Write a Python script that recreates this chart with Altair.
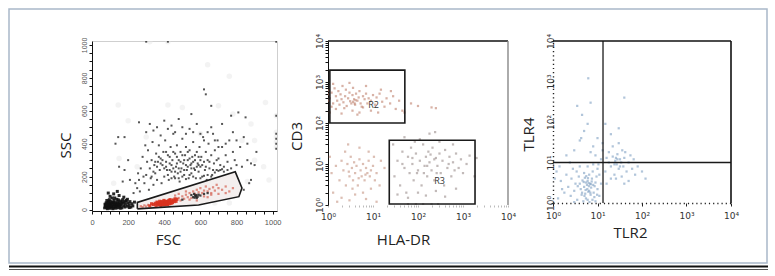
import altair as alt
import pandas as pd

# ---------------- Panel 1 : FSC / SSC (linear 0-1024) ----------------
P1_LOW_BLACK = [
    (70, 10), (75, 25), (78, 40), (80, 15), (82, 55), (85, 5), (88, 30), (90, 45), (92, 20), (95, 10),
    (96, 60), (98, 35), (100, 25), (102, 8), (105, 48), (108, 15), (110, 30), (112, 70), (115, 20), (118, 40),
    (120, 10), (122, 55), (125, 28), (128, 18), (130, 42), (133, 8), (135, 33), (138, 62), (140, 22), (143, 48),
    (145, 12), (148, 30), (150, 85), (152, 40), (155, 18), (158, 52), (160, 28), (165, 10), (168, 38), (170, 60),
    (175, 22), (178, 45), (182, 15), (185, 32), (190, 55), (195, 20), (200, 40), (205, 28), (210, 48), (215, 15),
    (220, 35), (72, 32), (86, 12), (94, 50), (104, 38), (116, 5), (126, 70), (136, 25), (146, 58), (156, 8),
    (166, 45), (176, 75), (186, 50), (196, 62), (206, 12), (226, 22), (235, 45), (120, 95), (100, 80), (140, 110),
    (90, 100), (74, 18), (84, 38), (93, 28), (106, 22), (113, 44), (124, 36), (132, 16), (142, 35), (154, 26),
]
P1_CLOUD_BLACK = [
    (250, 130), (260, 180), (270, 250), (280, 320), (290, 160), (300, 210), (305, 290), (310, 360), (315, 120), (320, 250),
    (325, 190), (330, 300), (335, 410), (340, 150), (345, 270), (350, 220), (355, 340), (360, 180), (365, 290), (370, 390),
    (375, 240), (380, 310), (385, 160), (390, 270), (395, 350), (400, 200), (405, 420), (410, 290), (415, 240), (420, 330),
    (425, 180), (430, 280), (435, 380), (440, 230), (445, 300), (450, 460), (455, 200), (460, 340), (465, 260), (470, 390),
    (475, 220), (480, 300), (485, 170), (490, 350), (495, 250), (500, 430), (505, 280), (510, 210), (515, 330), (520, 380),
    (525, 240), (530, 300), (535, 190), (540, 360), (545, 270), (550, 220), (555, 320), (560, 410), (565, 250), (570, 300),
    (575, 190), (580, 350), (585, 280), (590, 230), (595, 380), (600, 260), (605, 320), (610, 200), (615, 440), (620, 290),
    (625, 240), (630, 350), (635, 180), (640, 300), (645, 400), (650, 250), (660, 330), (665, 210), (670, 460), (675, 280),
    (680, 360), (690, 240), (695, 420), (700, 310), (710, 270), (720, 380), (730, 230), (740, 330), (750, 290), (760, 420),
    (770, 250), (780, 350), (790, 300), (800, 270), (820, 380), (840, 440), (860, 300), (880, 280), (900, 270), (910, 350),
    (230, 100), (240, 160), (255, 220), (265, 110), (285, 200), (295, 390), (300, 470), (320, 520), (340, 480), (360, 500),
    (380, 450), (400, 540), (420, 490), (440, 510), (460, 470), (480, 550), (500, 500), (520, 460), (540, 490), (560, 470),
    (580, 520), (600, 460), (620, 420), (640, 470), (660, 500), (680, 420), (700, 380), (720, 520), (740, 400), (780, 470),
    (800, 420), (180, 240), (200, 300), (210, 180), (170, 170), (150, 260), (130, 400), (145, 440), (180, 440), (260, 530),
    (550, 580), (620, 730), (630, 700), (660, 630), (770, 570), (810, 590), (850, 560), (860, 400), (880, 180), (870, 160),
    (840, 120), (830, 260), (410, 260), (430, 320), (450, 250), (470, 280), (490, 230), (510, 300), (530, 260), (550, 280),
    (570, 240), (590, 320), (420, 210), (460, 230), (500, 330), (540, 310), (580, 260), (440, 270), (480, 250), (520, 270),
    (560, 290), (600, 300), (400, 250), (380, 280), (360, 260), (340, 230), (330, 200), (350, 290), (370, 320), (390, 300),
    (410, 350), (430, 240), (450, 350), (470, 320), (490, 290), (510, 240), (530, 350), (550, 250), (570, 330), (590, 270),
    (610, 270), (630, 260), (650, 290), (670, 240), (690, 300), (710, 240), (730, 260), (640, 210), (660, 200), (600, 190),
    (620, 205), (680, 225), (700, 235), (720, 245), (750, 240), (560, 200), (500, 200), (480, 190), (520, 185), (540, 210),
    (460, 190), (440, 190), (300, 1020), (420, 1020), (1020, 1020), (1020, 460), (1020, 430), (1020, 400), (1020, 370),
    (1020, 570),
]
P1_GATE_BLACK = [
    (560, 75), (570, 85), (575, 80), (580, 70), (590, 90), (565, 95), (585, 78), (600, 85), (550, 88), (620, 95),
    (640, 100), (500, 60), (578, 88), (568, 72),
]
P1_RED_CORE = [
    (340, 30), (350, 38), (355, 25), (360, 45), (365, 32), (370, 40), (372, 28), (375, 50), (378, 35), (380, 42),
    (382, 22), (385, 38), (388, 48), (390, 30), (392, 40), (395, 35), (398, 55), (400, 42), (402, 28), (405, 38),
    (408, 50), (410, 32), (412, 45), (415, 40), (418, 30), (420, 48), (422, 36), (425, 55), (428, 42), (430, 35),
    (432, 60), (435, 45), (438, 38), (440, 52), (445, 42), (450, 58), (455, 48), (460, 65), (465, 50), (470, 62),
    (362, 38), (386, 44), (396, 30), (406, 46), (416, 34), (426, 48), (330, 35), (320, 22),
]
P1_RED_SPREAD = [
    (310, 28), (300, 18), (290, 25), (280, 15), (270, 20), (480, 70), (490, 55), (500, 80),
    (510, 65), (520, 90), (530, 75), (540, 100), (550, 70), (560, 110), (570, 95), (580, 120), (590, 105), (600, 130),
    (610, 100), (620, 115), (630, 140), (640, 110), (650, 125), (660, 100), (670, 135), (680, 115), (690, 150), (700, 130),
    (720, 120), (740, 140), (760, 110), (780, 130), (620, 80), (660, 90), (700, 95), (740, 100), (520, 110), (480, 95),
    (460, 85), (540, 60), (580, 55), (640, 75),
]
P1_FAINT = [
    (145, 635), (420, 635), (320, 1020), (420, 1020), (640, 880), (760, 810), (960, 650), (1020, 570), (1020, 470),
    (1020, 440), (1020, 410), (1020, 380), (880, 520), (900, 300), (780, 580), (250, 260), (150, 310), (200, 540),
    (600, 460), (500, 620), (700, 630), (830, 420), (300, 440), (900, 420), (950, 260), (860, 170), (980, 180),
    (680, 40), (760, 40), (120, 160),
]
GATE_FSC = [251, 251, 793, 830, 813, 590, 251]
GATE_SSC = [4, 43, 229, 131, 78, 27, 4]
P1_TICKS = [0, 50, 100, 150, 200, 250, 300, 350, 400, 450, 500, 550, 600, 650, 700, 750, 800, 850, 900, 950, 1000]

# ---------------- Panel 2 : HLA-DR / CD3 (log) ----------------
P2_R2 = [
    (1.1, 400), (1.2, 550), (1.3, 300), (1.2, 250), (1.4, 700), (1.5, 450), (1.6, 350), (1.7, 600), (1.8, 280), (1.9, 500),
    (2.0, 380), (2.1, 800), (2.2, 320), (2.4, 450), (2.5, 650), (2.6, 260), (2.8, 400), (3.0, 550), (3.1, 340), (3.3, 300),
    (3.5, 480), (3.6, 720), (3.8, 380), (4.0, 280), (4.2, 520), (4.5, 350), (4.8, 420), (5.0, 600), (5.3, 300), (5.6, 250),
    (6.0, 450), (6.5, 380), (7.0, 520), (7.5, 300), (8.0, 400), (9.0, 350), (10, 480), (11, 280), (12, 420), (14, 520),
    (16, 330), (18, 250), (20, 400), (24, 300), (28, 450), (32, 220), (38, 350), (45, 200), (50, 180), (1.1, 180),
    (1.3, 900), (2.0, 170), (3.0, 950), (4.5, 160), (7, 800), (15, 650), (25, 600), (1.5, 220), (2.3, 230), (6, 240),
    (9, 200), (13, 180), (70, 300), (100, 260), (200, 240), (250, 230), (1.0, 500), (1.0, 350), (1.05, 620), (3.5, 200),
    (5, 180), (3.6, 330), (3.9, 300), (4.1, 360),
]
P2_LOW = [
    (1.2, 6), (1.5, 9), (1.8, 4), (2.0, 12), (2.2, 7), (2.5, 3), (2.7, 10), (3.0, 5), (3.2, 15), (3.4, 8),
    (3.6, 4), (3.8, 11), (4.0, 6), (4.3, 9), (4.6, 3), (5.0, 13), (5.3, 7), (5.6, 5), (6.0, 10), (6.5, 4),
    (7.0, 8), (7.5, 6), (8.0, 12), (8.5, 5), (9.0, 7), (10, 9), (11, 4), (12, 6), (14, 3), (1.3, 2),
    (2.0, 1.5), (4.0, 1.8), (6.0, 2), (9.0, 2.5), (1.1, 15), (2.4, 20), (5.0, 25), (8, 20), (15, 12), (18, 8),
    (1.6, 1.2), (3, 1.3), (7, 1.4), (12, 1.2), (2.8, 30), (3.5, 2.5), (4.8, 4.5), (2.9, 6.5), (6.8, 5.5), (10.5, 15),
]
P2_R3 = [
    (30, 5), (35, 12), (40, 3), (45, 20), (50, 8), (55, 2), (60, 15), (65, 6), (70, 25), (75, 10),
    (80, 4), (90, 18), (100, 7), (110, 12), (120, 3), (130, 30), (140, 9), (150, 15), (160, 5), (170, 20),
    (180, 11), (200, 7), (210, 25), (230, 4), (250, 14), (270, 9), (300, 18), (320, 6), (350, 12), (380, 3),
    (400, 22), (450, 8), (500, 15), (550, 5), (600, 11), (700, 18), (800, 8), (900, 13), (1000, 6), (1200, 10),
    (1400, 16), (35, 1.8), (60, 1.5), (100, 2), (150, 1.7), (250, 2.2), (400, 1.6), (700, 2.5), (28, 30), (85, 35),
    (300, 35), (600, 30), (110, 40), (50, 45), (95, 6), (160, 9), (230, 13), (45, 10), (75, 14), (135, 6),
    (190, 17), (260, 6), (480, 10), (650, 7), (1800, 5), (2000, 14), (60, 1.05), (90, 1.05), (130, 1.05), (200, 1.05),
    (280, 1.05), (180, 55), (240, 60),
]
R2_BOX = (1.1, 51, 100, 1950)
R3_BOX = (23, 1850, 1.06, 38)
R_LABELS = ["R2", "R3"]
R_LABEL_X = [10.3, 300]
R_LABEL_Y = [282, 3.85]

# ---------------- Panel 3 : TLR2 / TLR4 (log) ----------------
P3_BLUE = [
    (2.5, 1.5), (3, 2), (3.5, 1.2), (4, 3), (4.5, 1.8), (5, 2.5), (5.5, 1.3), (6, 3.5), (6.5, 2), (7, 1.6),
    (7.5, 4), (8, 2.8), (8.5, 1.4), (9, 3.2), (10, 2.2), (5.8, 2.8), (6.2, 1.9), (6.8, 3), (5.2, 4.2), (4.8, 1.1),
    (7.2, 2.4), (6, 1.2), (5.5, 3.2), (4.2, 2.2), (3.8, 4.5), (8.2, 1.8), (9.5, 4.5), (6.5, 5), (5, 5.5), (7.8, 6),
    (3.2, 3), (2.2, 2.5), (1.8, 1.8), (1.5, 3.5), (2, 5), (1.3, 1.3), (1.2, 6), (2.8, 7), (4, 8), (6, 8),
    (8, 9), (10, 7), (11, 5), (12, 3), (11, 1.5), (9, 1.1), (3, 1.05), (6.6, 1.05), (4.4, 1.6), (5.4, 2.1),
    (6.4, 2.6), (7.4, 3.4), (4.6, 3.6), (5.6, 4.6), (3.6, 2.6), (8.6, 2.6), (6.9, 1.8), (5.1, 1.5), (7.7, 1.2), (2.6, 4),
    (9.8, 1.6), (1.6, 2.2), (1.1, 4), (1.4, 8), (2.4, 10), (3.4, 6), (10.5, 9), (12, 12), (5.9, 2.2), (6.3, 3.1),
    (5.3, 1.7), (7.1, 2.9), (4.9, 3.3), (6.1, 4.1), (15, 6), (18, 10), (20, 8), (22, 14), (24, 5), (25, 11),
    (27, 9), (28, 16), (30, 7), (32, 12), (34, 10), (36, 20), (38, 8), (40, 13), (45, 6), (50, 10),
    (55, 15), (60, 7), (18, 18), (22, 25), (30, 30), (26, 4), (35, 4.5), (42, 18), (16, 13), (20, 4),
    (28, 12), (32, 8), (26, 13), (24, 9), (65, 12), (70, 5), (80, 8), (100, 6), (120, 4), (40, 3),
    (50, 3.5), (16, 3), (6.2, 1200), (40, 400), (4.3, 40), (4, 35), (5, 60), (6, 90), (4.5, 150), (8, 25),
    (10, 40), (13, 30), (20, 50), (30, 70), (15, 90), (3, 20), (2, 15), (7, 18), (9, 15), (13, 20),
    (3.5, 250), (7, 300),
]
QUAD_TLR2 = [13.3]
QUAD_TLR4 = [10]

LOG_TICKS = [1, 2, 3, 4, 5, 6, 7, 8, 9, 10, 20, 30, 40, 50, 60, 70, 80, 90, 100, 200, 300, 400, 500, 600,
             700, 800, 900, 1000, 2000, 3000, 4000, 5000, 6000, 7000, 8000, 9000, 10000]
DECADES = [1, 10, 100, 1000, 10000]
SUP = ("datum.value == 1 ? '10\u2070' : datum.value == 10 ? '10\u00b9' : datum.value == 100 ? '10\u00b2' : "
       "datum.value == 1000 ? '10\u00b3' : datum.value == 10000 ? '10\u2074' : ''")

TITLE = dict(titleFont="Open Sans", titleFontSize=15, titleFontWeight="normal", titleColor="#222",
             titleBaseline="middle")


def frame(pairs, a, b):
    return pd.DataFrame(pairs, columns=[a, b])


# ---------------- Panel 1 build ----------------
W1, H1 = 185, 170
sx1 = alt.Scale(domain=[0, 1024], nice=False, zero=False)
sy1 = alt.Scale(domain=[-9, 1024], nice=False, zero=False)
ax1x = alt.Axis(title="FSC", values=P1_TICKS, format="d", labelExpr="datum.value % 200 == 0 ? datum.label : ''",
                labelFlush=False, labelOverlap=False, tickSize=3, domainColor="#111", tickColor="#111",
                labelFontSize=7.5, labelColor="#555", labelPadding=4, titleX=76, titleY=28, **TITLE)
ax1y = alt.Axis(title="SSC", values=P1_TICKS, format="d", labelExpr="datum.value % 200 == 0 ? datum.label : ''",
                labelFlush=False, labelOverlap=False, tickSize=3, domainColor="#111", tickColor="#111",
                labelAngle=270, labelAlign="center", labelBaseline="bottom", labelFontSize=7, labelColor="#555",
                labelPadding=2, titleX=-27, titleY=104, **TITLE)


def p1_points(df, color, size, opacity, shape="square"):
    return alt.Chart(df).mark_point(shape=shape, filled=True, size=size, color=color, opacity=opacity,
                                    clip=True).encode(
        x=alt.X("fsc:Q", scale=sx1, axis=ax1x), y=alt.Y("ssc:Q", scale=sy1, axis=ax1y))


gate_df = pd.DataFrame({"fsc": GATE_FSC, "ssc": GATE_SSC, "k": list(range(len(GATE_FSC)))})
one = pd.DataFrame({"a": [0]})

outer = alt.Chart(one).mark_rect(fill="white", fillOpacity=0, stroke="#a9b8c9", strokeWidth=1.5).encode(
    x=alt.value(-83), x2=alt.value(675), y=alt.value(-32), y2=alt.value(222))
line_a = alt.Chart(one).mark_rule(color="#111", strokeWidth=2).encode(
    x=alt.value(-83), x2=alt.value(676), y=alt.value(225.5))
line_b = alt.Chart(one).mark_rule(color="#555", strokeWidth=1.2).encode(
    x=alt.value(-83), x2=alt.value(676), y=alt.value(228.5))

gate_fill = alt.Chart(gate_df).mark_line(fill="#f4efee", stroke="transparent").encode(
    x=alt.X("fsc:Q", scale=sx1, axis=ax1x), y=alt.Y("ssc:Q", scale=sy1, axis=ax1y), order="k:Q")
gate_line = alt.Chart(gate_df).mark_line(color="#1a1a1a", strokeWidth=1.6).encode(
    x=alt.X("fsc:Q", scale=sx1, axis=ax1x), y=alt.Y("ssc:Q", scale=sy1, axis=ax1y), order="k:Q")

panel1 = alt.layer(
    outer, line_a, line_b,
    p1_points(frame(P1_FAINT, "fsc", "ssc"), "#e4e4e4", 30, 0.45, "circle"),
    gate_fill,
    p1_points(frame(P1_CLOUD_BLACK, "fsc", "ssc"), "#1c1c1c", 4, 0.75),
    p1_points(frame(P1_LOW_BLACK, "fsc", "ssc"), "#111111", 9, 0.9),
    p1_points(frame(P1_RED_SPREAD, "fsc", "ssc"), "#cf4a38", 5, 0.6),
    p1_points(frame(P1_RED_CORE, "fsc", "ssc"), "#d8321e", 10, 0.9),
    p1_points(frame(P1_GATE_BLACK, "fsc", "ssc"), "#222222", 5, 0.85),
    gate_line,
).properties(width=W1, height=H1, view=alt.ViewBackground(stroke="#cfcfcf", strokeWidth=1))

# ---------------- Panel 2 build ----------------
W2, H2 = 180, 164
sx2 = alt.Scale(type="log", domain=[1, 10000], nice=False)
sy2 = alt.Scale(type="log", domain=[1, 10000], nice=False)
ax2x = alt.Axis(title="HLA-DR", values=LOG_TICKS, labelExpr=SUP, labelFlush=False, labelOverlap=False,
                domain=False, tickSize=2, tickColor="#bbbbbb", labelFont="DejaVu Sans", labelFontSize=9,
                labelColor="#333", labelPadding=5, titleX=75, titleY=34, **TITLE)
ax2y = alt.Axis(title="CD3", values=LOG_TICKS, labelExpr=SUP, labelFlush=False, labelOverlap=False,
                domainColor="#111", tickColor="#111", tickSize=3, labelAngle=270, labelAlign="center",
                labelBaseline="bottom", labelFont="DejaVu Sans", labelFontSize=9, labelColor="#333",
                labelPadding=1, titleX=-32, titleY=95, **TITLE)


def p2_points(df, color, size, opacity):
    return alt.Chart(df).mark_point(shape="square", filled=True, size=size, color=color, opacity=opacity,
                                    clip=True).encode(
        x=alt.X("hla:Q", scale=sx2, axis=ax2x), y=alt.Y("cd3:Q", scale=sy2, axis=ax2y))


boxes = pd.DataFrame({"x1": [R2_BOX[0], R3_BOX[0]], "x2": [R2_BOX[1], R3_BOX[1]],
                      "y1": [R2_BOX[2], R3_BOX[2]], "y2": [R2_BOX[3], R3_BOX[3]]})
rlab = pd.DataFrame({"hla": R_LABEL_X, "cd3": R_LABEL_Y, "t": R_LABELS})
edge2 = pd.DataFrame({"v": [10000]})

panel2 = alt.layer(
    p2_points(frame(P2_R2, "hla", "cd3"), "#b8735c", 5, 0.55),
    p2_points(frame(P2_LOW, "hla", "cd3"), "#b97d68", 5, 0.5),
    p2_points(frame(P2_R3, "hla", "cd3"), "#857673", 5, 0.5),
    alt.Chart(boxes).mark_rect(fill="white", fillOpacity=0, stroke="#1a1a1a", strokeWidth=1.6).encode(
        x=alt.X("x1:Q", scale=sx2, axis=ax2x), x2="x2:Q",
        y=alt.Y("y1:Q", scale=sy2, axis=ax2y), y2="y2:Q"),
    alt.Chart(rlab).mark_text(font="Open Sans", fontSize=9, color="#333").encode(
        x=alt.X("hla:Q", scale=sx2, axis=ax2x), y=alt.Y("cd3:Q", scale=sy2, axis=ax2y), text="t:N"),
    alt.Chart(edge2).mark_rule(color="#111", strokeWidth=1.6).encode(
        y=alt.Y("v:Q", scale=sy2, axis=ax2y)),
    alt.Chart(edge2).mark_rule(color="#888", strokeWidth=1.4).encode(
        x=alt.X("v:Q", scale=sx2, axis=ax2x)),
).properties(width=W2, height=H2, view=alt.ViewBackground(stroke="transparent"))

# ---------------- Panel 3 build ----------------
W3, H3 = 178, 162
sx3 = alt.Scale(type="log", domain=[1, 10000], nice=False)
sy3 = alt.Scale(type="log", domain=[1, 10000], nice=False)
ax3x = alt.Axis(title="TLR2", values=DECADES, labelExpr=SUP, labelFlush=False, labelOverlap=False,
                domainDash=[1.2, 3], domainColor="#222", domainWidth=1.4, tickSize=3, tickColor="#222",
                labelFont="DejaVu Sans", labelFontSize=9, labelColor="#333", labelPadding=5,
                titleX=77, titleY=29, **TITLE)
ax3y = alt.Axis(title="TLR4", values=DECADES, labelExpr=SUP, labelFlush=False, labelOverlap=False,
                domainDash=[1.2, 3], domainColor="#222", domainWidth=1.4, tickSize=2, tickColor="#222",
                labelAngle=270, labelAlign="center", labelBaseline="bottom", labelFont="DejaVu Sans",
                labelFontSize=9, labelColor="#333", labelPadding=-4, titleX=-25, titleY=93, **TITLE)

quad = pd.DataFrame({"tlr2": QUAD_TLR2, "tlr4": QUAD_TLR4})
edge3 = pd.DataFrame({"v": [10000]})

panel3 = alt.layer(
    alt.Chart(frame(P3_BLUE, "tlr2", "tlr4")).mark_point(shape="square", filled=True, size=5, color="#7d9fc2",
                                                          opacity=0.6, clip=True).encode(
        x=alt.X("tlr2:Q", scale=sx3, axis=ax3x), y=alt.Y("tlr4:Q", scale=sy3, axis=ax3y)),
    alt.Chart(quad).mark_rule(color="#1a1a1a", strokeWidth=1.3).encode(x=alt.X("tlr2:Q", scale=sx3, axis=ax3x)),
    alt.Chart(quad).mark_rule(color="#1a1a1a", strokeWidth=1.3).encode(y=alt.Y("tlr4:Q", scale=sy3, axis=ax3y)),
    alt.Chart(edge3).mark_rule(color="#111", strokeWidth=1.6).encode(y=alt.Y("v:Q", scale=sy3, axis=ax3y)),
    alt.Chart(edge3).mark_rule(color="#111", strokeWidth=1.6).encode(x=alt.X("v:Q", scale=sx3, axis=ax3x)),
).properties(width=W3, height=H3, view=alt.ViewBackground(stroke="transparent"))

right = alt.hconcat(panel2, panel3, spacing=45, bounds="flush")
chart = alt.hconcat(panel1, right, spacing=51, bounds="flush").properties(
    padding={"left": 7, "top": 7, "right": 5, "bottom": 5}, background="white"
).configure_axis(grid=False)

chart.save("out.html", embed_options={"renderer": "svg", "actions": False})
